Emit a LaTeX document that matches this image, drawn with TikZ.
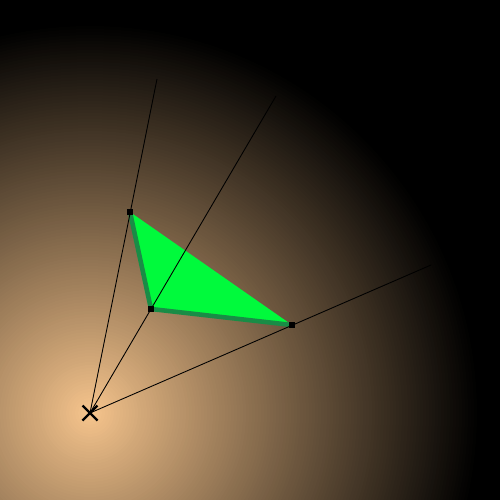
\documentclass[tikz,border=0pt]{standalone}
\usetikzlibrary{calc}
\definecolor{peach}{RGB}{248,198,142}
\definecolor{tri}{RGB}{0,250,60}
\definecolor{edgegreen}{RGB}{25,140,70}
\tikzset{
  ray/.style={black, line width=0.5pt},
  marker/.style={fill=black, minimum size=3.4pt, inner sep=0pt, draw=none, rectangle},
  edge/.style={edgegreen, line width=2.6pt, line cap=round, line join=round},
  crossline/.style={black, line width=1.3pt}
}
\begin{document}
\begin{tikzpicture}[x=0.02cm, y=-0.02cm]
\useasboundingbox (0,0) rectangle (500,500);
\fill[black] (0,0) rectangle (500,500);
\coordinate (O) at (90,413);
\begin{scope}
\clip (0,0) rectangle (500,500);
\foreach \i in {0,...,129} {
  \pgfmathsetmacro\rr{390*(1-\i/130)}
  \pgfmathsetmacro\ff{100*(1-(\rr/390)^0.95)}
  \fill[peach!\ff!black] (O) circle (\rr);
}
\end{scope}
\coordinate (A) at (130,212);
\coordinate (B) at (151,309);
\coordinate (C) at (292,325);
\coordinate (EA) at (157,79);
\coordinate (EB) at (276,96);
\coordinate (EC) at (431,265);
\fill[tri] (A) -- (B) -- (C) -- cycle;
\draw[edge] (A) -- (B) -- (C);
\draw[ray] (O) -- (EA);
\draw[ray] (O) -- (EB);
\draw[ray] (O) -- (EC);
\node[marker] (mA) at (A) {};
\node[marker] (mB) at (B) {};
\node[marker] (mC) at (C) {};
\draw[crossline] ($(O)+(-7.5,-7.5)$) -- ($(O)+(7.5,7.5)$);
\draw[crossline] ($(O)+(-7.5,7.5)$) -- ($(O)+(7.5,-7.5)$);
\end{tikzpicture}
\end{document}
